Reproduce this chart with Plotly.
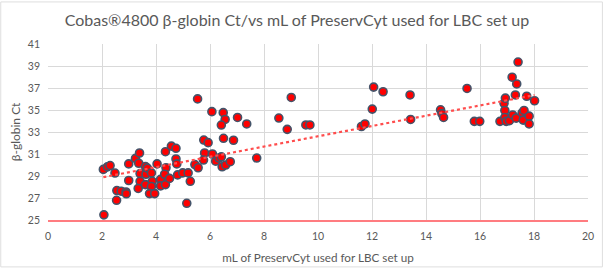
import numpy as np
import plotly.graph_objects as go

# mL of PreservCyt used (x) and beta-globin Ct (y)
ml_preservcyt = [
    2.05, 2.07, 2.20, 2.30, 2.48, 2.54, 2.55, 2.71, 2.89, 2.90,
    2.99, 2.99, 3.24, 3.39, 3.36, 3.41, 3.41, 3.34, 3.61, 3.63,
    3.61, 3.68, 3.83, 3.86, 3.83, 3.76, 3.95, 4.04, 4.17, 4.17,
    4.35, 4.37, 4.32, 4.35, 4.57, 4.74, 4.74, 4.77, 4.50, 4.80,
    4.99, 5.19, 5.27, 5.14, 5.44, 5.56, 5.54, 5.77, 5.93, 5.80,
    5.76, 6.09, 6.21, 6.33, 6.42, 6.45, 6.58, 6.75, 6.07, 6.49,
    6.56, 6.42, 6.50, 6.87, 7.02, 7.36, 7.73, 8.55, 9.01, 8.86,
    9.55, 9.70, 11.61, 11.74, 12.01, 12.06, 12.41, 13.41, 13.43, 14.54,
    14.59, 14.65, 15.52, 15.79, 15.99, 16.74, 16.89, 16.94, 16.92, 16.92,
    16.97, 17.09, 17.21, 17.34, 17.31, 17.36, 17.19, 17.41, 17.56, 17.63,
    17.60, 17.73, 17.82, 17.82, 18.02,
]
beta_globin_ct = [
    29.60, 25.47, 29.83, 29.95, 29.27, 26.79, 27.68, 27.62, 27.55, 27.38,
    30.10, 28.59, 30.60, 31.09, 30.16, 29.22, 28.52, 27.87, 29.86, 29.16,
    28.22, 29.72, 29.28, 28.52, 28.05, 27.40, 27.40, 30.10, 28.69, 28.10,
    28.22, 29.75, 29.16, 31.21, 31.72, 31.52, 30.55, 30.10, 28.78, 29.10,
    29.28, 29.28, 28.52, 26.52, 30.04, 29.75, 36.01, 32.27, 32.03, 31.09,
    30.45, 31.00, 30.35, 30.63, 30.74, 29.84, 30.00, 30.30, 34.85, 34.76,
    34.14, 33.63, 32.43, 32.25, 34.32, 33.73, 30.63, 34.27, 36.14, 33.24,
    33.64, 33.64, 33.50, 33.73, 35.08, 37.08, 36.66, 36.37, 34.14, 35.02,
    34.67, 34.32, 36.96, 33.97, 33.97, 33.97, 35.61, 36.08, 34.96, 34.32,
    33.97, 34.03, 34.55, 34.26, 36.37, 37.37, 37.98, 39.36, 34.73, 34.96,
    34.08, 36.25, 34.44, 33.73, 35.84,
]

x_ticks = list(range(0, 21, 2))
y_ticks = list(range(25, 42, 2))

title_text = "Cobas®4800 β-globin Ct/vs mL of PreservCyt used for LBC set up"
x_title = "mL of PreservCyt used for LBC set up"
y_title = "β-globin Ct"

# Linear trendline (least squares) from the data
slope, intercept = np.polyfit(ml_preservcyt, beta_globin_ct, 1)
tx = np.array([min(ml_preservcyt), max(ml_preservcyt)])
ty = slope * tx + intercept

fig = go.Figure()
fig.add_trace(go.Scatter(
    x=ml_preservcyt, y=beta_globin_ct, mode="markers",
    marker=dict(size=8, color="#ff0000", line=dict(width=1.6, color="#44546a")),
    showlegend=False, hoverinfo="x+y",
))
fig.add_trace(go.Scatter(
    x=tx, y=ty, mode="lines",
    line=dict(color="#ff4d4d", width=2.2, dash="dot"),
    showlegend=False, hoverinfo="skip",
))

font_family = "Lato, 'Open Sans', sans-serif"
fig.update_layout(
    width=606, height=275,
    margin=dict(l=48, r=15, t=44, b=49),
    paper_bgcolor="white", plot_bgcolor="white",
    font=dict(family=font_family, color="#595959", size=10),
    title=dict(text=title_text, x=0.49, xanchor="center", y=0.925, yanchor="middle",
               font=dict(size=16, color="#595959", family=font_family)),
    xaxis=dict(
        range=[0, 20], tickvals=x_ticks, showgrid=True, gridcolor="#d9d9d9", gridwidth=1,
        zeroline=False, showline=True, linecolor="#ff7c80", linewidth=1.5,
        ticks="", ticklabelstandoff=6, tickfont=dict(size=10.5, color="#595959"),
        title=dict(text=x_title, font=dict(size=11.7, color="#595959"), standoff=12),
    ),
    yaxis=dict(
        range=[25, 41], tickvals=y_ticks, showgrid=True, gridcolor="#d9d9d9", gridwidth=1,
        zeroline=False, showline=False, ticks="", ticklabelstandoff=7,
        tickfont=dict(size=10.5, color="#595959"),
        title=dict(text=y_title, font=dict(size=12, color="#595959"), standoff=4),
    ),
    shapes=[dict(type="rect", xref="paper", yref="paper",
                 x0=-0.0875, x1=1.0267, y0=-0.2665, y1=1.239,
                 line=dict(color="#dedede", width=1), layer="below")],
)

fig.write_html("out.html",
               config={"displayModeBar": False},
               post_script="document.body.style.margin='0';document.body.style.overflow='hidden';")
